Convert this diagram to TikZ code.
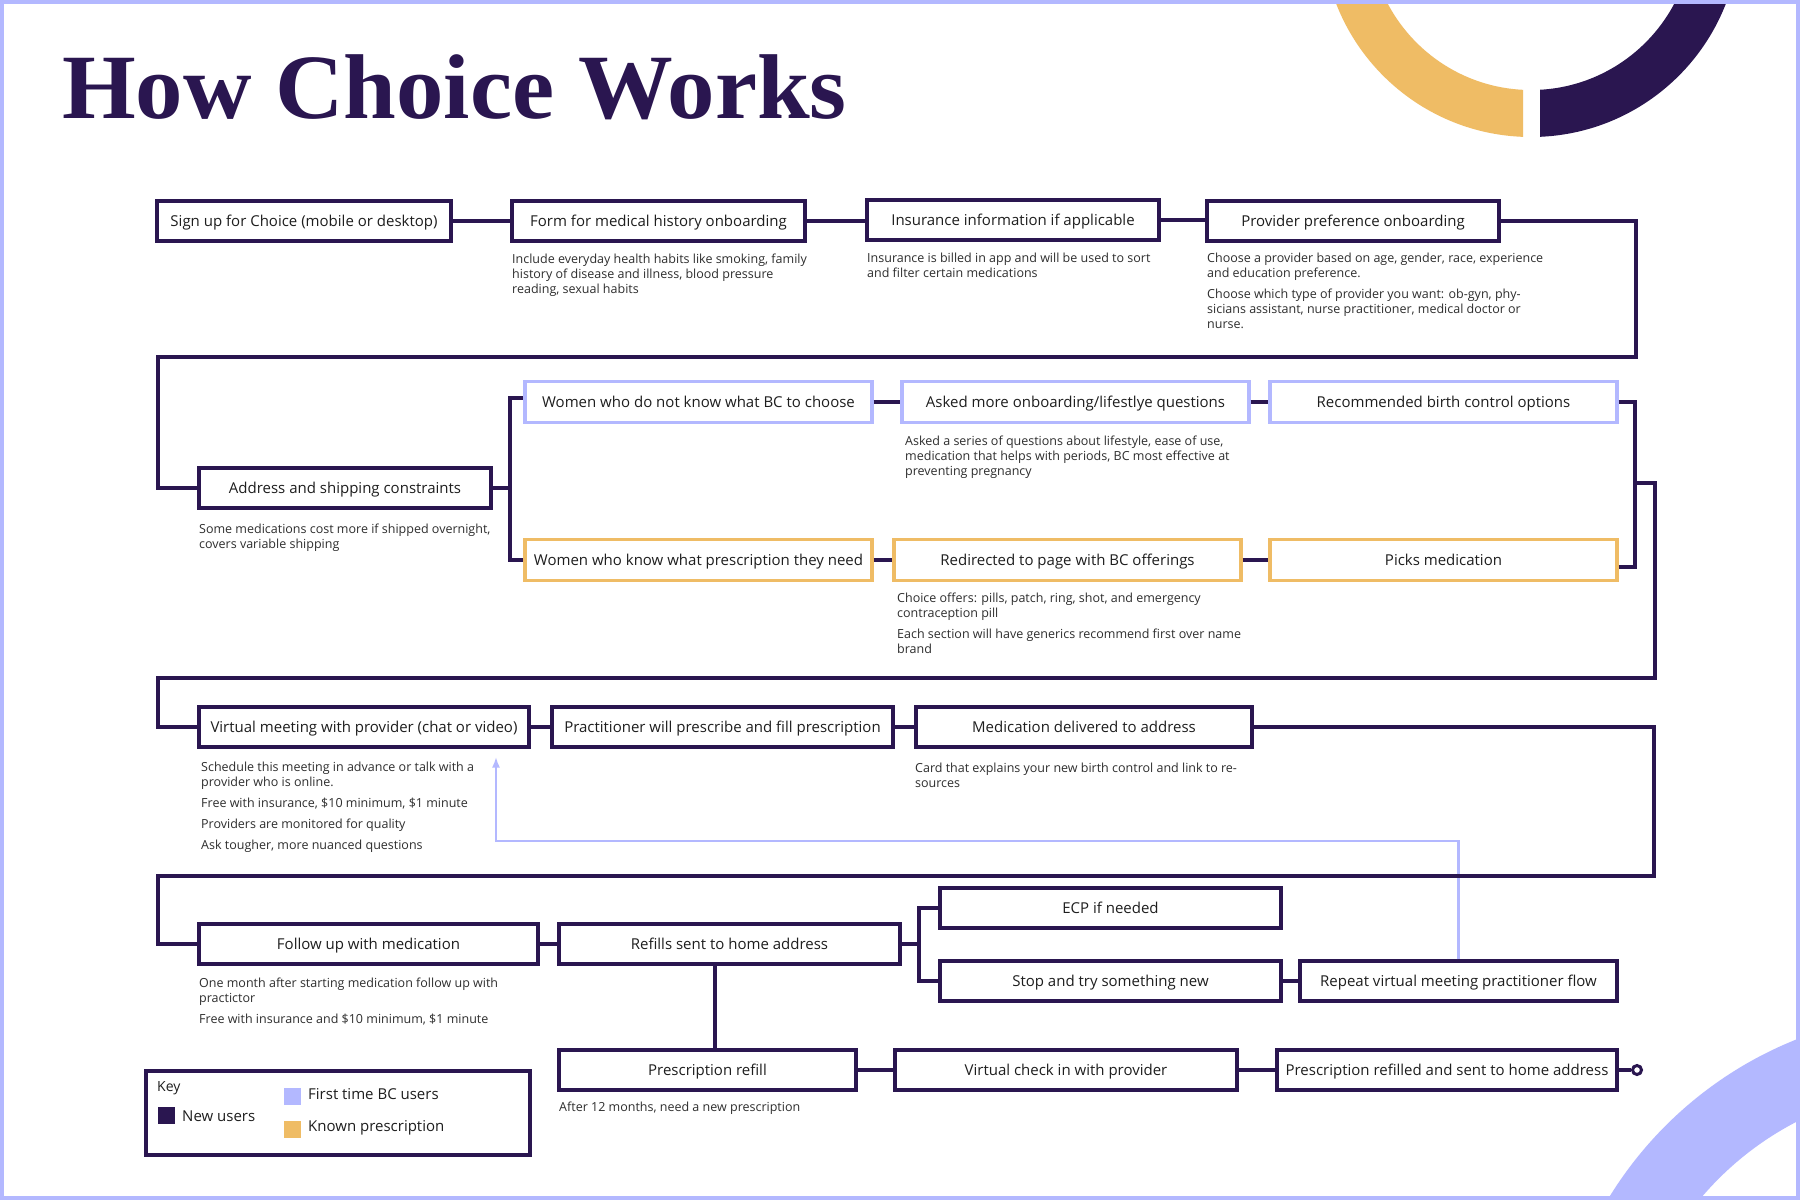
\documentclass[tikz,border=0pt]{standalone}
\usepackage{fontspec}
\setmainfont{Open Sans}
\newfontfamily\titlefont{Liberation Serif}[FakeStretch=1.03]
\usetikzlibrary{arrows.meta,calc}
\definecolor{dpurple}{HTML}{2A1650}
\definecolor{lav}{HTML}{B3B8FF}
\definecolor{gold}{HTML}{EFBC65}
\definecolor{txt}{HTML}{1E1E1E}
\definecolor{desctxt}{HTML}{2E2E2E}
\begin{document}
\begin{tikzpicture}[x=1pt,y=-1pt,
  box/.style={draw=dpurple, line width=3.2pt, fill=white, minimum height=40pt, inner sep=0pt, text height=12pt, text depth=2pt, text=txt, font=\fontsize{15}{18}\selectfont},
  lbox/.style={box, draw=lav},
  gbox/.style={box, draw=gold},
  conn/.style={draw=dpurple, line width=3.2pt},
  desc/.style={anchor=north west, inner sep=0pt, align=left, text=desctxt, font=\fontsize{12.5}{15}\selectfont},
  keytxt/.style={anchor=west, inner sep=0pt, text=txt, font=\fontsize{15}{18}\selectfont},
  swatch/.style={minimum width=17pt, minimum height=17pt, inner sep=0pt}
]
\useasboundingbox (0,0) rectangle (1800,1200);
\fill[white] (0,0) rectangle (1800,1200);
% decorations
\begin{scope}
  \clip (0,0) rectangle (1523,300);
  \fill[gold,even odd rule] (1531,-72) circle[radius=209pt] (1531,-72) circle[radius=162pt];
\end{scope}
\begin{scope}
  \clip (1540,0) rectangle (1800,300);
  \fill[dpurple,even odd rule] (1531,-72) circle[radius=209pt] (1531,-72) circle[radius=162pt];
\end{scope}
\begin{scope}
  \clip (0,0) rectangle (1800,1200);
  \fill[lav,even odd rule] (1940,1400) circle[radius=388pt] (1940,1400) circle[radius=313pt];
\end{scope}

% title
\node[anchor=base west, inner sep=0pt, text=dpurple, font=\titlefont\bfseries\fontsize{92}{92}\selectfont] (title) at (62,118) {How Choice Works};

% row 1
\node[box, minimum width=294pt] (signup) at (304,221) {Sign up for Choice (mobile or desktop)};
\node[box, minimum width=293pt] (form) at (658.5,221) {Form for medical history onboarding};
\node[box, minimum width=292pt] (insur) at (1013,220) {Insurance information if applicable};
\node[box, minimum width=292pt] (prov) at (1353,221) {Provider preference onboarding};

% row 2
\node[box, minimum width=292pt] (addr) at (345,488) {Address and shipping constraints};
\node[lbox, minimum width=347pt, minimum height=41pt] (notknow) at (698.5,402) {Women who do not know what BC to choose};
\node[lbox, minimum width=347pt, minimum height=41pt] (asked) at (1075.5,402) {Asked more onboarding/lifestlye questions};
\node[lbox, minimum width=347pt, minimum height=41pt] (recom) at (1443.5,402) {Recommended birth control options};
\node[gbox, minimum width=347pt, minimum height=41pt] (know) at (698.5,560) {Women who know what prescription they need};
\node[gbox, minimum width=347pt, minimum height=41pt] (redir) at (1067.5,560) {Redirected to page with BC offerings};
\node[gbox, minimum width=347pt, minimum height=41pt] (picks) at (1443.5,560) {Picks medication};

% row 3
\node[box, minimum width=330pt] (virt) at (364,727) {Virtual meeting with provider (chat or video)};
\node[box, minimum width=341pt] (pract) at (722.5,727) {Practitioner will prescribe and fill prescription};
\node[box, minimum width=336pt] (deliv) at (1084,727) {Medication delivered to address};

% row 4
\node[box, minimum width=339pt] (follow) at (368.5,944) {Follow up with medication};
\node[box, minimum width=341pt] (refills) at (729.5,944) {Refills sent to home address};
\node[box, minimum width=341pt] (ecp) at (1110.5,908) {ECP if needed};
\node[box, minimum width=341pt] (stop) at (1110.5,981) {Stop and try something new};
\node[box, minimum width=317pt] (repeat) at (1458.5,981) {Repeat virtual meeting practitioner flow};

% row 5
\node[box, minimum width=297pt] (prefill) at (707.5,1070) {Prescription refill};
\node[box, minimum width=342pt] (checkin) at (1066,1070) {Virtual check in with provider};
\node[box, minimum width=340pt] (refilled) at (1447,1070) {Prescription refilled and sent to home address};
\node[circle, draw=dpurple, line width=3pt, fill=white, inner sep=0pt, minimum size=9pt] (endc) at (1637,1070) {};

% descriptions
\node[desc] (formd) at (512,254) {Include everyday health habits like smoking, family\\history of disease and illness, blood pressure\\reading, sexual habits};
\node[desc] (insurd) at (867,253) {Insurance is billed in app and will be used to sort\\and filter certain medications};
\node[desc] (provd) at (1207,253) {Choose a provider based on age, gender, race, experience\\and education preference.\\[6pt]Choose which type of provider you want: ob-gyn, phy-\\sicians assistant, nurse practitioner, medical doctor or\\nurse.};
\node[desc] (addrd) at (199,524) {Some medications cost more if shipped overnight,\\covers variable shipping};
\node[desc] (askedd) at (905,436) {Asked a series of questions about lifestyle, ease of use,\\medication that helps with periods, BC most effective at\\preventing pregnancy};
\node[desc] (redird) at (897,593) {Choice offers: pills, patch, ring, shot, and emergency\\contraception pill\\[6pt]Each section will have generics recommend first over name\\brand};
\node[desc] (virtd) at (201,762) {Schedule this meeting in advance or talk with a\\provider who is online.\\[6pt]Free with insurance, \$10 minimum, \$1 minute\\[6pt]Providers are monitored for quality\\[6pt]Ask tougher, more nuanced questions};
\node[desc] (delivd) at (915,763) {Card that explains your new birth control and link to re-\\sources};
\node[desc] (followd) at (199,978) {One month after starting medication follow up with\\practictor\\[6pt]Free with insurance and \$10 minimum, \$1 minute};
\node[desc] (prefilld) at (559,1102) {After 12 months, need a new prescription};

% key
\node[draw=dpurple, line width=3.2pt, minimum width=384pt, minimum height=84pt, inner sep=0pt] (key) at (338,1113) {};
\node[keytxt, font=\fontsize{14}{17}\selectfont] (keyt) at (157,1088) {Key};
\node[swatch, fill=dpurple] (sw1) at (166.5,1115) {};
\node[keytxt] (kt1) at (182,1116) {New users};
\node[swatch, fill=lav] (sw2) at (292.5,1096) {};
\node[keytxt] (kt2) at (308,1094) {First time BC users};
\node[swatch, fill=gold] (sw3) at (292.5,1129) {};
\node[keytxt] (kt3) at (308,1128) {Known prescription};

% lavender return arrow
\coordinate (a1) at (496,841);
\draw[lav, line width=2.5pt, -{Latex[length=11pt,width=8pt]}, shorten >=8pt] (repeat.north) |- (a1) -- (a1 |- virt.south);

% connectors
\coordinate (r1) at (1636,357);
\coordinate (l1) at (158,357);
\draw[conn] (signup.east) -- (form.west);
\draw[conn] (form.east) -- (form.east -| insur.west);
\draw[conn] (insur.east) -- (insur.east -| prov.west);
\draw[conn] (prov.east) -| (r1) -- (l1) |- (addr.west);
\coordinate (b1) at (510,488);
\draw[conn] (addr.east) -- (b1) |- ([yshift=4pt]notknow.west);
\draw[conn] (b1) |- (know.west);
\draw[conn] (notknow.east) -- (asked.west);
\draw[conn] (asked.east) -- (recom.west);
\draw[conn] (know.east) -- (redir.west);
\draw[conn] (redir.east) -- (picks.west);
\coordinate (m1) at (1635,483);
\coordinate (r2) at (1655,678);
\coordinate (l2) at (158,678);
\draw[conn] (recom.east) -| (m1);
\draw[conn] ([yshift=-7pt]picks.east) -| (m1) -| (r2) -- (l2) |- (virt.west);
\draw[conn] (virt.east) -- (pract.west);
\draw[conn] (pract.east) -- (deliv.west);
\coordinate (r3) at (1654,876);
\coordinate (l3) at (158,876);
\draw[conn] (deliv.east) -| (r3) -- (l3) |- (follow.west);
\draw[conn] (follow.east) -- (refills.west);
\coordinate (b2) at (919,944);
\draw[conn] (refills.east) -- (b2) |- (ecp.west);
\draw[conn] (b2) |- (stop.west);
\draw[conn] (stop.east) -- (repeat.west);
\coordinate (rv) at ([xshift=-14.5pt]refills.south);
\draw[conn] (rv) -- (rv |- prefill.north);
\draw[conn] (prefill.east) -- (checkin.west);
\draw[conn] (checkin.east) -- (refilled.west);
\draw[conn] (refilled.east) -- (endc.west);

% frame
\draw[lav, line width=4pt] (2,2) rectangle (1798,1198);
\end{tikzpicture}
\end{document}
